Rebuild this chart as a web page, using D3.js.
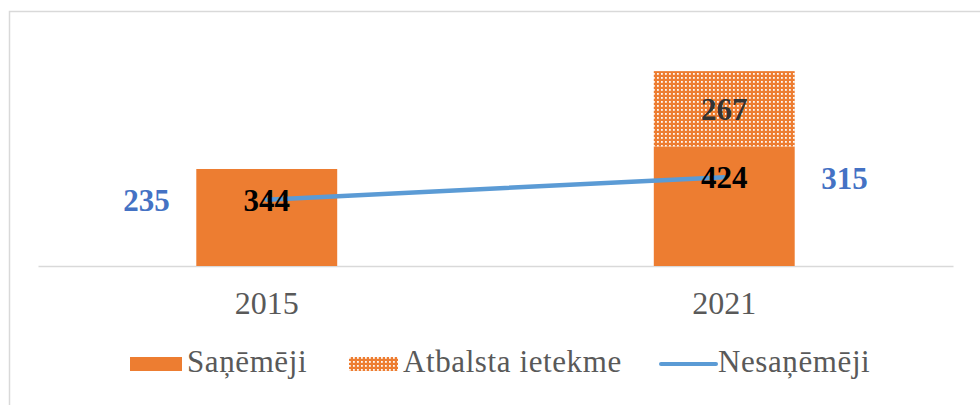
<!DOCTYPE html>
<html>
<head>
<meta charset="utf-8">
<script src="https://cdn.jsdelivr.net/npm/d3@7"></script>
<style>
  html, body { margin: 0; padding: 0; background: #fff; }
  svg { display: block; font-family: "Liberation Serif", "Times New Roman", serif; }
</style>
</head>
<body>
<svg id="chart" width="980" height="405"></svg>
<script>
// Chart data
const years = ["2015", "2021"];
const sanemeji = [344, 424];          // Saņēmēji (solid bar)
const atbalsts = [0, 267];            // Atbalsta ietekme (stacked, dotted)
const nesanemeji = [235, 315];        // Nesaņēmēji (line)
const seriesNames = ["Saņēmēji", "Atbalsta ietekme", "Nesaņēmēji"];

const orange = "#ED7D31";
const blue = "#5B9BD5";
const labelBlue = "#4472C4";

const svg = d3.select("#chart");

// Dotted fill for the stacked segment
const defs = svg.append("defs");
const pat = defs.append("pattern")
  .attr("id", "dots")
  .attr("patternUnits", "userSpaceOnUse")
  .attr("width", 4).attr("height", 4);
pat.append("rect").attr("width", 4).attr("height", 4).attr("fill", orange);
pat.append("rect").attr("x", 1).attr("y", 1).attr("width", 1.8).attr("height", 1.8)
  .attr("fill", "#fff").attr("opacity", 0.95);

// Outer frame
svg.append("rect")
  .attr("x", 9.5).attr("y", 11.5)
  .attr("width", 1000).attr("height", 500)
  .attr("fill", "none").attr("stroke", "#D9D9D9").attr("stroke-width", 1.5);

// Scales
const x = d3.scaleBand().domain(years).range([38, 953])
  .paddingInner(0.692).paddingOuter(0.346);
const y = d3.scaleLinear().domain([0, 800]).range([266, 40.4]);

// Category axis
const xAxis = d3.axisBottom(x).tickSize(0).tickPadding(0);
const gx = svg.append("g").attr("transform", `translate(0,${y(0)})`).call(xAxis);
gx.select(".domain").attr("stroke", "#D9D9D9").attr("stroke-width", 1.5);
gx.selectAll(".tick text")
  .attr("y", 48)
  .attr("dy", null)
  .attr("fill", "#595959")
  .style("font-family", "'Liberation Serif', serif")
  .style("font-size", "32px");

// Bars
const rows = years.map((yr, i) => ({ yr, base: sanemeji[i], top: atbalsts[i], line: nesanemeji[i] }));

svg.append("g").selectAll("rect").data(rows).join("rect")
  .attr("x", d => x(d.yr))
  .attr("width", x.bandwidth())
  .attr("y", d => y(d.base))
  .attr("height", d => y(0) - y(d.base))
  .attr("fill", orange);

svg.append("g").selectAll("rect").data(rows.filter(d => d.top > 0)).join("rect")
  .attr("x", d => x(d.yr))
  .attr("width", x.bandwidth())
  .attr("y", d => y(d.base + d.top))
  .attr("height", d => y(d.base) - y(d.base + d.top))
  .attr("fill", "url(#dots)");

// Line series
const cx = d => x(d.yr) + x.bandwidth() / 2;
svg.append("path")
  .datum(rows)
  .attr("d", d3.line().x(cx).y(d => y(d.line)))
  .attr("fill", "none")
  .attr("stroke", blue)
  .attr("stroke-width", 4.5)
  .attr("stroke-linecap", "round");

// Bar value labels (inside end for the base segment, centred for the top one)
svg.append("g").selectAll("text").data(rows).join("text")
  .attr("x", cx)
  .attr("y", d => y(d.base) + 42)
  .attr("text-anchor", "middle")
  .attr("font-weight", "bold")
  .attr("font-size", 31)
  .attr("fill", "#000")
  .text(d => d.base);

svg.append("g").selectAll("text").data(rows.filter(d => d.top > 0)).join("text")
  .attr("x", cx)
  .attr("y", d => (y(d.base) + y(d.base + d.top)) / 2 + 11.5)
  .attr("text-anchor", "middle")
  .attr("font-weight", "bold")
  .attr("font-size", 31)
  .attr("fill", "#333")
  .text(d => d.top);

// Line value labels: left of the first point, right of the last
svg.append("g").selectAll("text").data(rows).join("text")
  .attr("x", (d, i) => cx(d) + (i === 0 ? -97 : 97))
  .attr("y", d => y(d.line) + 11.5)
  .attr("text-anchor", (d, i) => i === 0 ? "end" : "start")
  .attr("font-weight", "bold")
  .attr("font-size", 31)
  .attr("fill", labelBlue)
  .text(d => d.line);

// Legend
const legend = svg.append("g").attr("font-size", 31).attr("fill", "#595959")
  .style("letter-spacing", "0.6px");
const legY = 364;
legend.append("rect").attr("x", 130).attr("y", legY - 7).attr("width", 52).attr("height", 14).attr("fill", orange);
legend.append("text").attr("x", 187).attr("y", legY + 7.5).text(seriesNames[0]);
legend.append("rect").attr("x", 349).attr("y", legY - 7).attr("width", 49).attr("height", 14).attr("fill", "url(#dots)");
legend.append("text").attr("x", 403).attr("y", legY + 7.5).text(seriesNames[1]);
legend.append("line").attr("x1", 661).attr("x2", 716).attr("y1", legY).attr("y2", legY)
  .attr("stroke", blue).attr("stroke-width", 4).attr("stroke-linecap", "round");
legend.append("text").attr("x", 718).attr("y", legY + 7.5).text(seriesNames[2]);
</script>
</body>
</html>
